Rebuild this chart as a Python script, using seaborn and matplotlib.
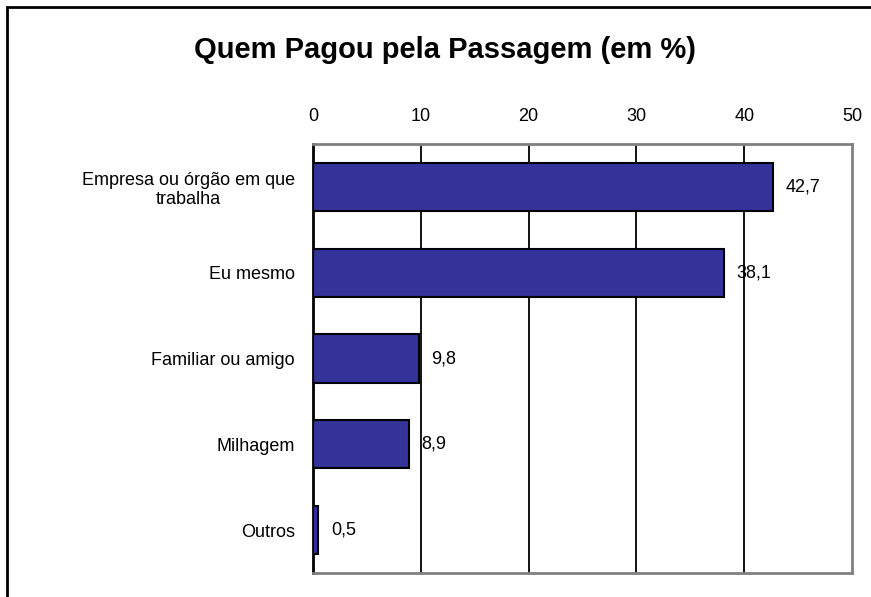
import matplotlib
matplotlib.use("Agg")
import matplotlib.pyplot as plt
import matplotlib.patches as mpatches
import seaborn as sns
import pandas as pd

categories = ["Empresa ou órgão em que\ntrabalha", "Eu mesmo", "Familiar ou amigo", "Milhagem", "Outros"]
values = [42.7, 38.1, 9.8, 8.9, 0.5]
value_labels = ["42,7", "38,1", "9,8", "8,9", "0,5"]
x_ticks = [0, 10, 20, 30, 40, 50]
title = "Quem Pagou pela Passagem (em %)"

sns.set_theme(style="white")
plt.rcParams['font.family'] = ['Liberation Sans', 'DejaVu Sans']
plt.rcParams['text.color'] = 'black'

fig = plt.figure(figsize=(8.71, 5.97), dpi=100)
W, H = 871, 597
ax = fig.add_axes([313 / W, 1 - 573 / H, (852 - 313) / W, (573 - 144) / H])

df = pd.DataFrame({"cat": categories, "val": values})
sns.barplot(data=df, x="val", y="cat", orient="h", color="#333399", saturation=1,
            edgecolor="black", linewidth=1.5, width=0.56, ax=ax, zorder=3)

ax.set_xlim(0, 50)
ax.set_xticks(x_ticks)
ax.xaxis.tick_top()
ax.tick_params(axis="x", length=0, pad=14, labelsize=13, colors="black")
ax.tick_params(axis="y", length=0, pad=13, labelsize=13, colors="black")
for lbl in ax.get_yticklabels():
    lbl.set_multialignment("center")
ax.set_xlabel("")
ax.set_ylabel("")

for x in x_ticks[1:-1]:
    ax.axvline(x, color="black", lw=1.3, zorder=1)

for s in ["top", "right", "bottom"]:
    ax.spines[s].set_color("#808080")
    ax.spines[s].set_linewidth(2)
ax.spines["left"].set_color("black")
ax.spines["left"].set_linewidth(2)

for i, (v, t) in enumerate(zip(values, value_labels)):
    ax.annotate(t, xy=(v, i), xytext=(9, 0), textcoords="offset points",
                va="center", ha="left", fontsize=13, color="black")

fig.text(445 / W, 1 - 50 / H, title, ha="center", va="center", fontsize=21,
         fontweight="bold", color="black")

border = mpatches.Rectangle((7 / W, -0.1), 1.2, 1 - 7 / H + 0.1, transform=fig.transFigure,
                            fill=False, edgecolor="black", lw=2, clip_on=False)
fig.patches.append(border)

fig.savefig("out.png", dpi=100)
